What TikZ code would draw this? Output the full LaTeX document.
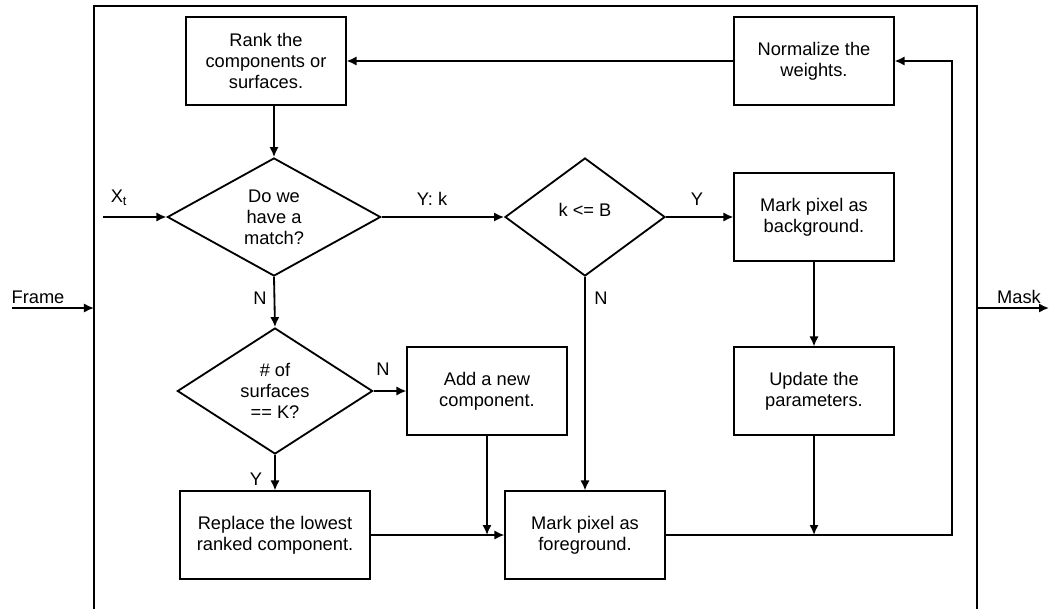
\documentclass[tikz,border=0pt]{standalone}
\usepackage{fontspec}
\setmainfont{Liberation Sans}
\usetikzlibrary{arrows.meta,positioning,calc,shapes.geometric}

\begin{document}
\begin{tikzpicture}[
    x=0.025cm, y=-0.025cm,
    font=\fontsize{13}{14.9}\selectfont,
    >={Latex[length=2.5mm,width=2.3mm]},
    line width=1.3pt,
    stepbox/.style = {draw, align=center, minimum width=3.98cm,
                      minimum height=2.18cm, inner sep=2pt},
    decide/.style  = {draw, diamond, align=center, inner sep=0pt},
    flow/.style    = {draw, ->},
    lbl/.style     = {inner sep=1pt},
  ]
  \useasboundingbox (0,0) rectangle (1050,608);

  % --- System frame ----------------------------------------------------
  \draw (94,620) -- (94,6) -- (977,6) -- (977,620);
  \coordinate (frameL) at (94,308);
  \coordinate (frameR) at (977,308);
  \coordinate (framein) at (12,308);
  \coordinate (maskout) at (1049,308);

  \draw[flow] (framein) -- (frameL);
  \draw[flow] (frameR) -- (maskout);
  \node[lbl] at (38,297) {Frame};
  \node[lbl] at (1019,297) {Mask};

  % --- Top row ---------------------------------------------------------
  \node[stepbox] (rank) at (266,61) {Rank the\\components or\\surfaces.};
  \node[stepbox] (norm) at (814,61) {Normalize the\\weights.};

  % --- Decisions -------------------------------------------------------
  \node[decide, minimum width=5.33cm, minimum height=2.95cm, aspect=1.8]
    (match) at (274,217) {Do we\\have a\\match?};
  \node[decide, minimum width=4cm, minimum height=2.95cm, aspect=1.36]
    (kb) at (585,217) {\raisebox{10pt}{k <= B}};
  \node[decide, minimum width=4.88cm, minimum height=3.15cm, aspect=1.55]
    (surf) at (275,391) {\# of\\surfaces\\== K?};

  % --- Actions ---------------------------------------------------------
  \node[stepbox] (bg)  at (814,217) {Mark pixel as\\background.};
  \node[stepbox] (upd) at (814,391) {Update the\\parameters.};
  \node[stepbox] (add) at (487,391) {Add a new\\component.};
  \node[stepbox, minimum width=4.75cm] (repl) at (275,535)
    {Replace the lowest\\ranked component.};
  \node[stepbox] (fg)  at (585,535) {Mark pixel as\\foreground.};

  % --- Connectors ------------------------------------------------------
  \coordinate (xin) at (103,217);
  \draw[flow] (xin) -- (match.west);
  \node[lbl] at (119,198) {X\textsubscript{t}};

  \draw[flow] (norm.west) -- (rank.east);
  \draw[flow] (rank.south -| match.north) -- (match.north);

  \draw[flow] (match.east) -- (kb.west);
  \node[lbl] at (432,199) {Y: k};
  \draw[flow] (kb.east) -- (bg.west);
  \node[lbl] at (697,199) {Y};

  \draw[flow] (match.south) -- (surf.north);
  \node[lbl] at (260,298) {N};
  \draw[flow] (kb.south) -- (fg.north);
  \node[lbl] at (601,298) {N};

  \draw[flow] (surf.east) -- (add.west);
  \node[lbl] at (383,369) {N};
  \draw[flow] (surf.south) -- (repl.north);
  \node[lbl] at (256,479) {Y};

  \draw[flow] (bg.south) -- (upd.north);
  \draw[flow] (upd.south) -- (upd.south |- fg.east);
  \draw[flow] (add.south) -- (add.south |- fg.west);
  \draw[flow] (repl.east) -- (fg.west);

  % loop back to the weights
  \coordinate (loop) at (952,535);
  \draw[flow] (fg.east) -- (loop) |- (norm.east);

\end{tikzpicture}
\end{document}
